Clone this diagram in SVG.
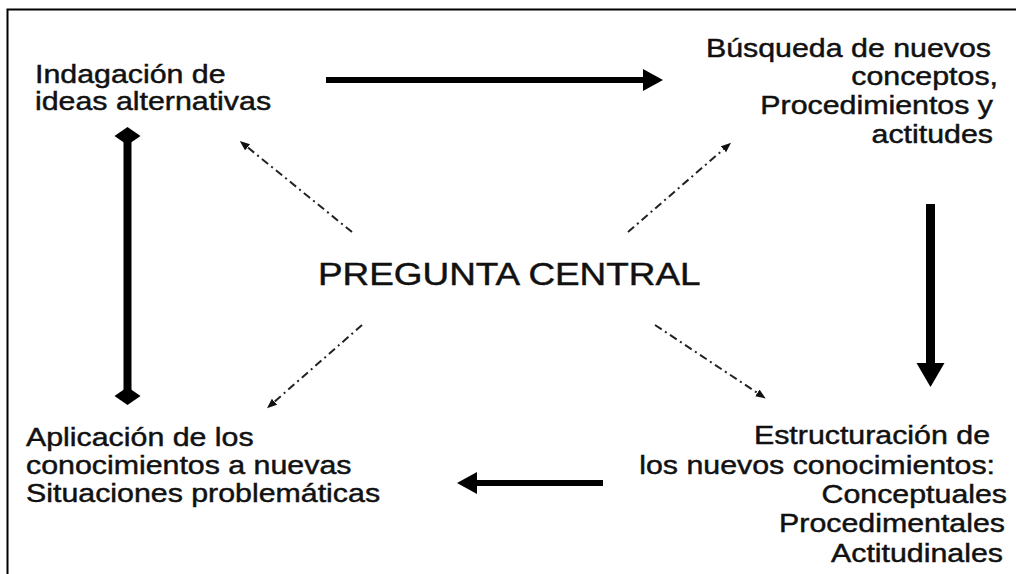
<svg xmlns="http://www.w3.org/2000/svg" width="1016" height="574" viewBox="0 0 1016 574">
<style>
  .t { font-family: "Liberation Sans", Arial, sans-serif; font-size: 25.5px; fill: #111; stroke: #111; stroke-width: 0.45; }
  .tc { font-family: "Liberation Sans", Arial, sans-serif; font-size: 31px; fill: #111; stroke: #111; stroke-width: 0.45; }
  .r { text-anchor: end; }
  .thick { stroke: #000; fill: none; }
  .dd { stroke: #222; stroke-width: 2; fill: none; stroke-dasharray: 8 4 2 4; }
  .frame { stroke: #000; stroke-width: 2; fill: none; }
</style>
<defs>
  <marker id="head" markerUnits="userSpaceOnUse" markerWidth="22" markerHeight="24" refX="0" refY="11" orient="auto">
    <path d="M0,0 L20,11 L0,22 z" fill="#000"/>
  </marker>
  <marker id="headBig" markerUnits="userSpaceOnUse" markerWidth="26" markerHeight="30" refX="0" refY="14" orient="auto">
    <path d="M0,0 L24,14 L0,28 z" fill="#000"/>
  </marker>
  <marker id="diamond" markerUnits="userSpaceOnUse" markerWidth="20" markerHeight="28" refX="9" refY="13" orient="auto">
    <path d="M0,13 L9,0 L18,13 L9,26 z" fill="#000"/>
  </marker>
  <marker id="small" markerUnits="userSpaceOnUse" markerWidth="12" markerHeight="10" refX="2" refY="4" orient="auto">
    <path d="M0,0 L10,4 L0,8 z" fill="#111"/>
  </marker>
</defs>
<rect width="1016" height="574" fill="#fff"/>
<path class="frame" d="M7.5,574 L7.5,9.5 L1016,9.5"/>

<g id="connectors">
  <line class="thick" x1="326" y1="80" x2="643" y2="80" stroke-width="6" marker-end="url(#head)"/>
  <line class="thick" x1="930.5" y1="204" x2="930.5" y2="363" stroke-width="9" marker-end="url(#headBig)"/>
  <line class="thick" x1="603" y1="483" x2="477" y2="483" stroke-width="6" marker-end="url(#head)"/>
  <line class="thick" x1="127.5" y1="136" x2="127.5" y2="396" stroke-width="8" marker-start="url(#diamond)" marker-end="url(#diamond)"/>
  <line class="dd" x1="352" y1="232" x2="246" y2="146" marker-end="url(#small)"/>
  <line class="dd" x1="628" y1="232" x2="725" y2="148" marker-end="url(#small)"/>
  <line class="dd" x1="362" y1="325" x2="273" y2="403" marker-end="url(#small)"/>
  <line class="dd" x1="655" y1="325" x2="759" y2="394" marker-end="url(#small)"/>
</g>

<g id="node-indagacion" transform="matrix(1.19 0 0 1 35 0)">
  <text class="t" x="0" y="83">Indagación de</text>
  <text class="t" x="0" y="110">ideas alternativas</text>
</g>

<g id="node-busqueda" transform="matrix(1.19 0 0 1 993 0)">
  <text class="t r" x="-1.7" y="57">Búsqueda de nuevos</text>
  <text class="t r" x="4.2" y="85">conceptos,</text>
  <text class="t r" x="0" y="114">Procedimientos y</text>
  <text class="t r" x="0" y="143">actitudes</text>
</g>

<g id="node-pregunta" transform="matrix(1.19 0 0 1 318 0)">
  <text class="tc" x="0" y="285">PREGUNTA CENTRAL</text>
</g>

<g id="node-aplicacion" transform="matrix(1.19 0 0 1 26 0)">
  <text class="t" x="0" y="446">Aplicación de los</text>
  <text class="t" x="0" y="474">conocimientos a nuevas</text>
  <text class="t" x="0" y="502">Situaciones problemáticas</text>
</g>

<g id="node-estructuracion" transform="matrix(1.19 0 0 1 1005 0)">
  <text class="t r" x="-12.6" y="444">Estructuración de</text>
  <text class="t r" x="-8.4" y="474">los nuevos conocimientos:</text>
  <text class="t r" x="1.7" y="503">Conceptuales</text>
  <text class="t r" x="0" y="532">Procedimentales</text>
  <text class="t r" x="-1.7" y="562">Actitudinales</text>
</g>
</svg>
